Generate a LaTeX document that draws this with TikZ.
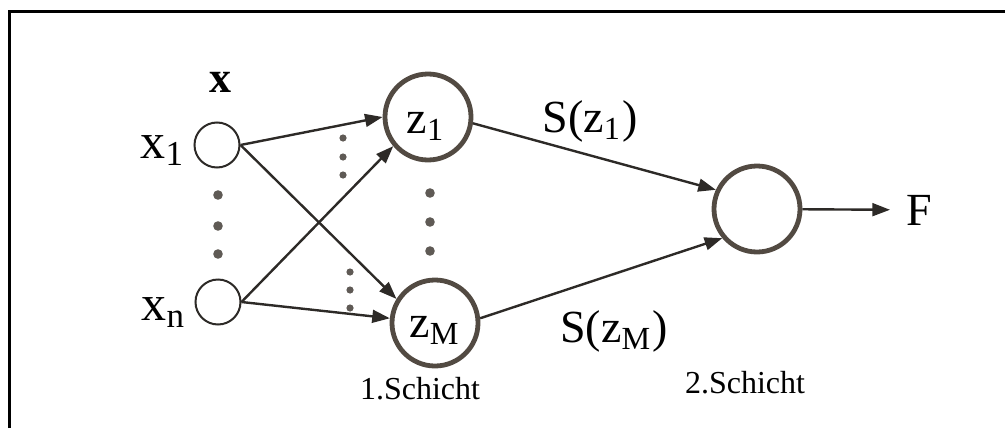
\documentclass[tikz,border=0pt]{standalone}
\usepackage{fontspec}
\setmainfont{Liberation Serif}
\usepackage{xcolor}
\usetikzlibrary{arrows.meta,positioning,calc}
\definecolor{net-line}{RGB}{45,42,39}
\definecolor{net-ring}{RGB}{82,74,66}
\definecolor{net-dot}{RGB}{95,90,85}

\begin{document}
\begin{tikzpicture}[x=0.25pt, y=-0.25pt,
  every node/.style={font=\fontsize{11.5}{13}\selectfont, inner sep=0pt},
  innode/.style={circle, draw=net-line, line width=0.5pt, minimum size=11.25pt},
  neuron/.style={circle, draw=net-ring, line width=1.2pt, minimum size=21.5pt},
  link/.style={-{Triangle[length=4.4pt,width=3.2pt]}, line width=0.6pt, draw=net-line},
  layer/.style={font=\fontsize{8}{10}\selectfont}]
  \useasboundingbox (0,0) rectangle (1005,428);
  % Rahmen
  \draw[line width=0.75pt] (9.5,428) -- (9.5,11.5) -- (1005,11.5);

  % Eingaben
  \node[innode] (x1) at (217,145) {};
  \node[innode] (xn) at (218,302) {};
  \node[font=\fontsize{11}{13}\selectfont\bfseries, anchor=base] (xvec) at (220,92) {x};
  \node[font=\fontsize{12.5}{14}\selectfont, anchor=base east] (x1lab) at (186,158) {x\textsubscript{1}};
  \node[font=\fontsize{12.5}{14}\selectfont, anchor=base east] (xnlab) at (187,320) {x\textsubscript{n}};
  \foreach \y in {195,226,254}
    \fill[net-dot] (218,\y) circle[radius=4.8];

  % 1. Schicht
  \node[neuron] (z1) at (428,117) {};
  \node[neuron] (zM) at (435,323) {};
  \node[anchor=base] (z1lab) at (426,133) {z\textsubscript{1}};
  \node[anchor=base] (zMlab) at (435,337) {z\textsubscript{M}};
  \foreach \y in {193,222,251}
    \fill[net-dot] (430,\y) circle[radius=4.8];
  \foreach \y in {138,157,175}
    \fill[net-dot] (343,\y) circle[radius=3.6];
  \foreach \y in {272,290,308}
    \fill[net-dot] (350,\y) circle[radius=3.6];
  \node[layer, anchor=base] (l1) at (420,399) {1.Schicht};

  % 2. Schicht
  \node[neuron] (out) at (757,209) {};
  \node[anchor=base west] (F) at (906,225) {F};
  \node[layer, anchor=base] (l2) at (745,393) {2.Schicht};

  % Verbindungen
  \draw[link] (x1.east) -- (z1.west);
  \draw[link] (xn.east) -- (z1.220);
  \draw[link] (x1.east) -- (zM.148);
  \draw[link] (xn.east) -- (zM.174);
  \draw[link] (z1.-8) -- (out.155);
  \draw[link] (zM.6) -- (out.220);
  \draw[link, shorten >=4pt] (out) -- (F);
  \node[anchor=base] (Sz1) at (590,132) {S(z\textsubscript{1})};
  \node[anchor=base] (SzM) at (614,342) {S(z\textsubscript{M})};
\end{tikzpicture}
\end{document}
